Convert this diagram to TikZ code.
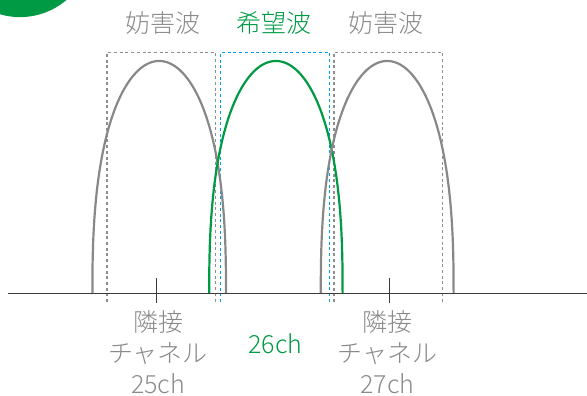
\documentclass[tikz,border=0pt]{standalone}
\usepackage{fontspec}
\setmainfont{Noto Sans CJK JP Light}
\definecolor{grn}{HTML}{009944}
\definecolor{gry}{HTML}{888888}
\definecolor{dgry}{HTML}{8E8E8E}
\definecolor{txtgry}{HTML}{8A8A8A}
\definecolor{blu}{HTML}{00A0E9}
\definecolor{axis}{HTML}{3E3A39}
\tikzset{
  wave/.style={line width=2.2pt},
  box/.style={line width=1.1pt, dash pattern=on 3pt off 2.7pt},
  lbl/.style={inner sep=0pt, text=txtgry, font=\fontsize{25}{31}\selectfont},
  lblg/.style={inner sep=0pt, text=grn, font=\fontsize{25}{31}\selectfont},
}
\begin{document}
\begin{tikzpicture}[x=1pt,y=-1pt]
\useasboundingbox (0,0) rectangle (587,396);
\fill[grn] (20,-54.4) circle (71.5);
% dashed boxes
\draw[box, dgry] (107,302) -- (107,52.5) -- (215.7,52.5) -- (215.7,302);
\draw[box, blu] (220.7,302) -- (220.7,52.5) -- (329.3,52.5) -- (329.3,302);
\draw[box, dgry] (334,302) -- (334,52.5) -- (442.7,52.5) -- (442.7,302);
% waves
\draw[wave, gry] plot[domain=0:180, samples=181] ({159.2+66.8*cos(\x)}, {293.3-232.3*(max(sin(\x),0.00001))^0.8});
\draw[wave, grn] plot[domain=0:180, samples=181] ({275.9+66.7*cos(\x)}, {293.3-232.3*(max(sin(\x),0.00001))^0.8});
\draw[wave, gry] plot[domain=0:180, samples=181] ({387.2+66.4*cos(\x)}, {293.3-232.3*(max(sin(\x),0.00001))^0.8});
% axis
\coordinate (a0) at (8,293.3);
\coordinate (a1) at (587,293.3);
\draw[axis, line width=1.3pt] (a0) -- (a1);
\coordinate (t1a) at (156.3,278);
\coordinate (t1b) at (156.3,303.3);
\coordinate (t2a) at (389,278);
\coordinate (t2b) at (389,303.3);
\draw[axis, line width=1pt] (t1a) -- (t1b);
\draw[axis, line width=1pt] (t2a) -- (t2b);
% labels
\node[lbl, anchor=base] (w1) at (163.3,33) {妨害波};
\node[lblg, anchor=base] (w2) at (274,33) {希望波};
\node[lbl, anchor=base] (w3) at (385.8,33) {妨害波};
\node[lblg, anchor=base] (c26) at (275.5,353.3) {26ch};
\node[lbl, align=center] (c25) at (158,352) {隣接\\チャネル\\25ch};
\node[lbl, align=center] (c27) at (387.5,352) {隣接\\チャネル\\27ch};
\end{tikzpicture}
\end{document}
